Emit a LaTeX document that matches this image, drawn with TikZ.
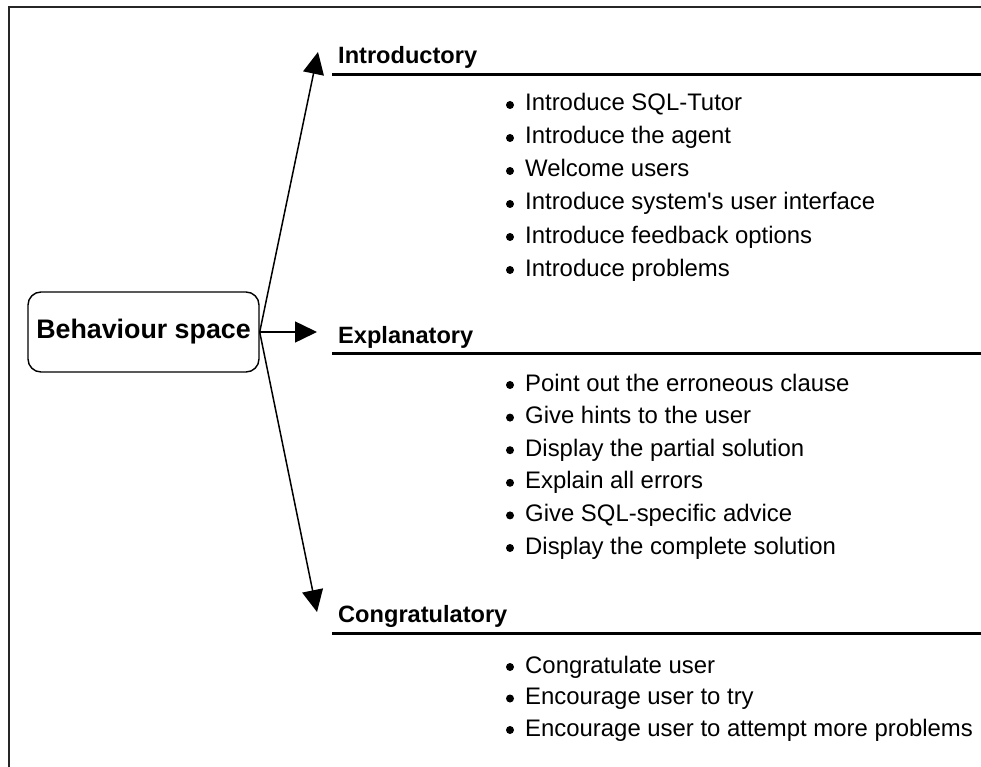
\documentclass[tikz,border=0pt]{standalone}
\usepackage{fontspec}
\setmainfont{Liberation Sans}
\usetikzlibrary{arrows.meta,calc}

\tikzset{
    conn/.style={line width=1.5pt, -{Triangle[length=22pt,width=21pt]}},
    head/.style={anchor=base west, inner sep=0pt, font=\fontsize{23.6}{27}\selectfont\bfseries},
    entry/.style={anchor=base west, inner sep=0pt, font=\fontsize{23.9}{28}\selectfont},
    rule/.style={line width=3pt},
    dot/.style={fill=black},
}

\begin{document}
\begin{tikzpicture}[x=1pt,y=-1pt]
    \useasboundingbox (0,0) rectangle (981,767);
    \draw[line width=2pt, black!85] (9,767) -- (9,7) -- (981,7);

    \node[draw, line width=1.4pt, rounded corners=13pt, minimum width=231pt, minimum height=80pt, inner sep=0pt,
          font=\fontsize{26.8}{30}\selectfont\bfseries] (bs) at (143.5,332) {Behaviour space};

    \coordinate (tipI) at (318,52); \coordinate (tipE) at (317,332); \coordinate (tipC) at (317,612);
    \draw[conn] (bs.east) -- (tipI); \draw[conn] (bs.east) -- (tipE); \draw[conn] (bs.east) -- (tipC);

    \node[head] (intro) at (338,64) {Introductory};
    \node[head] (expl) at (338,343) {Explanatory};
    \node[head] (congr) at (338,622) {Congratulatory};
    \foreach \y in {74.5,353,633} { \draw[rule] (332,\y) -- (981,\y); }

    \foreach \t [count=\i] in {Introduce SQL-Tutor, Introduce the agent, Welcome users, Introduce system\textquotesingle s user interface, Introduce feedback options, Introduce problems} {
        \fill[dot] (510,{105+33*(\i-1)}) circle (4pt);
        \node[entry] (intro\i) at (525,{111+33*(\i-1)}) {\t};
    }
    \foreach \t [count=\i] in {Point out the erroneous clause, Give hints to the user, Display the partial solution, Explain all errors, Give SQL-specific advice, Display the complete solution} {
        \fill[dot] (510,{385+32.6*(\i-1)}) circle (4pt);
        \node[entry] (expl\i) at (525,{391+32.6*(\i-1)}) {\t};
    }
    \foreach \t [count=\i] in {Congratulate user, Encourage user to try, Encourage user to attempt more problems} {
        \fill[dot] (510,{667+31.5*(\i-1)}) circle (4pt);
        \node[entry] (congr\i) at (525,{673+31.5*(\i-1)}) {\t};
    }
\end{tikzpicture}
\end{document}
